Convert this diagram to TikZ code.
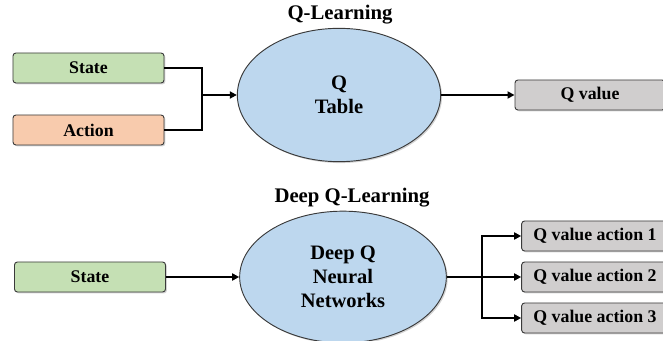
\documentclass[tikz,border=0pt]{standalone}
\usepackage{fontspec}
\setmainfont{Liberation Serif}
\usetikzlibrary{arrows.meta,shapes.geometric,shadows}

\definecolor{stategreen}{HTML}{C5E0B4}
\definecolor{actionorange}{HTML}{F8CBAD}
\definecolor{netblue}{HTML}{BDD7EE}
\definecolor{outgrey}{HTML}{D0CECE}
\definecolor{edgegrey}{HTML}{3A3A3A}

\begin{document}
\begin{tikzpicture}[x=0.03cm,y=-0.03cm,
  box/.style={draw=edgegrey,line width=0.8pt,rounded corners=2.5pt,minimum height=0.9cm,
    inner sep=0pt,font=\fontsize{15.2}{18}\selectfont\bfseries,
    drop shadow={shadow xshift=1.2pt,shadow yshift=-1.2pt,opacity=0.35}},
  net/.style={ellipse,draw=edgegrey,line width=0.8pt,fill=netblue,inner sep=0pt,align=center,
    font=\fontsize{17.5}{20.5}\selectfont\bfseries,
    drop shadow={shadow xshift=1.2pt,shadow yshift=-1.2pt,opacity=0.35}},
  title/.style={font=\fontsize{17.7}{20}\selectfont\bfseries},
  link/.style={line width=1.5pt,line join=miter},
  arrow/.style={link,-{Triangle[length=6pt,width=6pt]}}]
\useasboundingbox (0,0) rectangle (663,341);

% Q-Learning
\node[title] (qltitle) at (340,15) {Q-Learning};
\node[box,fill=stategreen,minimum width=4.53cm] (state) at (88.5,68) {State};
\node[box,fill=actionorange,minimum width=4.53cm] (action) at (88.5,130) {Action};
\node[net,minimum width=6.1cm,minimum height=4.0cm] (qtable) at (339,95) {Q\\Table};
\node[box,fill=outgrey,minimum width=4.5cm] (qvalue) at (590,95) {Q value};
\coordinate (join) at (202,95);
\draw[link] (state.east) -| (join);
\draw[link] (action.east) -| (join);
\draw[arrow] (join) -- (qtable.west);
\draw[arrow] (qtable.east) -- (qvalue.west);

% Deep Q-Learning
\node[title] (dqltitle) at (352,198) {Deep Q-Learning};
\node[box,fill=stategreen,minimum width=4.53cm] (state2) at (90,277) {State};
\node[net,minimum width=6.2cm,minimum height=3.95cm] (dqn) at (343,277) {Deep Q\\Neural\\Networks};
\node[box,fill=outgrey,minimum width=4.4cm] (qa1) at (595,236) {Q value action 1};
\node[box,fill=outgrey,minimum width=4.4cm] (qa2) at (595,277) {Q value action 2};
\node[box,fill=outgrey,minimum width=4.4cm] (qa3) at (595,318) {Q value action 3};
\coordinate (split) at (482,277);
\draw[arrow] (state2.east) -- (dqn.west);
\draw[arrow] (dqn.east) -- (qa2.west);
\draw[arrow] (split) |- (qa1.west);
\draw[arrow] (split) |- (qa3.west);
\end{tikzpicture}
\end{document}
